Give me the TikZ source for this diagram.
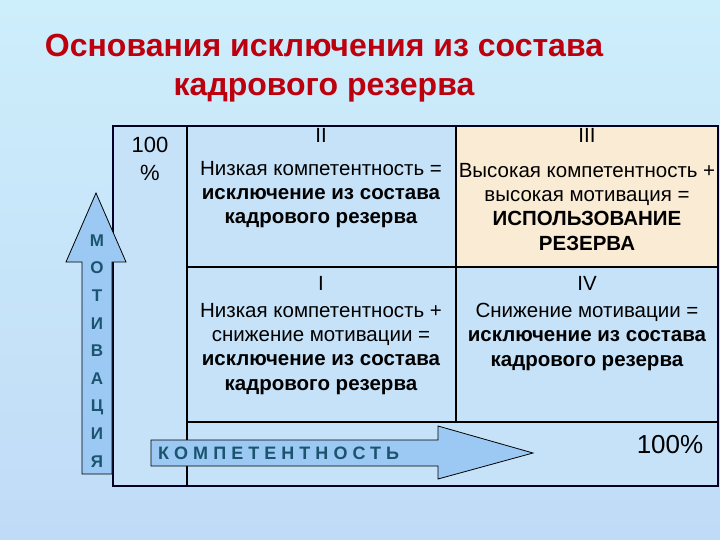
\documentclass[tikz,border=0pt]{standalone}
\usepackage{fontspec}
\setmainfont{Liberation Sans}
\newfontfamily\spacedfont[LetterSpace=28]{Liberation Sans}
\definecolor{bgtop}{RGB}{205,238,251}
\definecolor{bgbot}{RGB}{192,219,247}
\definecolor{cellblue}{RGB}{198,226,248}
\definecolor{cellbeige}{RGB}{250,235,212}
\definecolor{titlered}{RGB}{188,0,14}
\definecolor{arrowblue}{RGB}{155,201,243}
\definecolor{axisteal}{RGB}{28,84,112}
\tikzset{
  titletext/.style={text=titlered,font=\fontsize{32}{38}\selectfont\bfseries,inner sep=0pt,anchor=base},
  celltext/.style={align=center,font=\fontsize{20.5}{24.3}\selectfont,inner sep=0pt,anchor=base},
  numtext/.style={font=\fontsize{20.5}{24}\selectfont,inner sep=0pt,anchor=base},
  gridline/.style={line width=1.2pt,draw=black},
  outerline/.style={line width=2.2pt,draw=black!85!blue},
  axisarrow/.style={fill=arrowblue,draw=black,line width=0.8pt,line join=miter},
  axistext/.style={text=axisteal,inner sep=0pt}
}
\begin{document}
\begin{tikzpicture}[x=1pt,y=-1pt]
\useasboundingbox (0,0) rectangle (720,540);
\shade[top color=bgtop,bottom color=bgbot] (0,0) rectangle (720,540);
% title
\node[titletext] (t1) at (324,57) {Основания исключения из состава};
\node[titletext] (t2) at (324,96) {кадрового резерва};
% table
\fill[cellblue] (113,126) rectangle (718,486);
\fill[cellbeige] (456,126) rectangle (718,267);
\draw[gridline] (187,126) -- (187,486);
\draw[gridline] (456,126) -- (456,422);
\draw[gridline] (187,267) -- (718,267);
\draw[gridline] (187,422) -- (718,422);
\draw[outerline] (113,126) rectangle (718,486);
% texts (base anchor = baseline of last line)
\node[align=center,font=\fontsize{22}{28}\selectfont,inner sep=0pt,anchor=base] (p100) at (150,181) {100\\\%};
\node[numtext] (n2) at (321,143) {II};
\node[celltext] (c2) at (321,224) {Низкая компетентность =\\\textbf{исключение из состава}\\\textbf{кадрового резерва}};
\node[numtext] (n3) at (587,143) {III};
\node[celltext] (c3) at (587,250) {Высокая компетентность +\\высокая мотивация =\\\textbf{ИСПОЛЬЗОВАНИЕ}\\\textbf{РЕЗЕРВА}};
\node[numtext] (n1) at (321,290) {I};
\node[celltext] (c1) at (321,390) {Низкая компетентность +\\снижение мотивации =\\\textbf{исключение из состава}\\\textbf{кадрового резерва}};
\node[numtext] (n4) at (587,290) {IV};
\node[celltext] (c4) at (587,366) {Снижение мотивации =\\\textbf{исключение из состава}\\\textbf{кадрового резерва}};
\node[font=\fontsize{26}{30}\selectfont,inner sep=0pt,anchor=base] (p100b) at (670,453) {100\%};
% vertical arrow
\draw[axisarrow] (82,474) -- (112,474) -- (112,262) -- (126,262) -- (96,193) -- (66,262) -- (82,262) -- cycle;
\node[axistext,align=center,font=\fontsize{17}{27.6}\selectfont\bfseries,anchor=base] (mot) at (97,467)
  {М\\О\\Т\\И\\В\\А\\Ц\\И\\Я};
% horizontal arrow
\draw[axisarrow] (151,440) -- (438,440) -- (438,426) -- (533,453) -- (438,479) -- (438,466) -- (151,466) -- cycle;
\node[axistext,font=\fontsize{18}{20}\selectfont\spacedfont\bfseries,anchor=base west] (komp) at (158,459.5) {КОМПЕТЕНТНОСТЬ};
\end{tikzpicture}
\end{document}
